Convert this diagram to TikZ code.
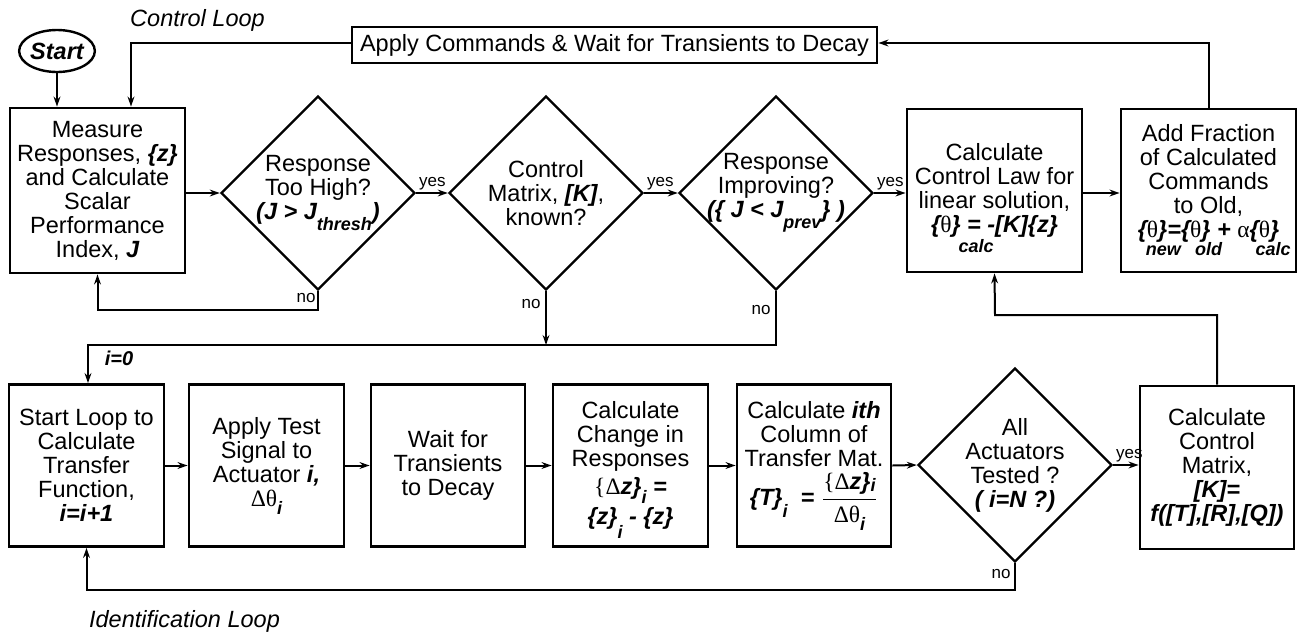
\documentclass[tikz,border=0pt]{standalone}
\usepackage{fontspec}
\setmainfont{Liberation Sans}
\newfontfamily\symf{Liberation Serif}
\usetikzlibrary{shapes.geometric,arrows.meta}
\newcommand\bi[1]{{\bfseries\itshape #1}}
\newcommand\gk[1]{{\symf\mdseries\upshape #1}}
\newcommand\sbf{\fontsize{9}{9}\selectfont\bfseries\itshape}
\newcommand\lsub[2][5pt]{\raisebox{-#1}{\sbf #2}}
\newcommand\slsub[2][5pt]{\smash{\raisebox{-#1}{\sbf #2}}}
\newcommand\zsub[3][0pt]{\rlap{\hspace{#1}\raisebox{-#2}{\sbf #3}}}
\newcommand\szsub[3][0pt]{\rlap{\hspace{#1}\smash{\raisebox{-#2}{\sbf #3}}}}
\begin{document}
\begin{tikzpicture}[x=0.5pt,y=-0.5pt,
  every node/.style={font=\fontsize{11.75}{12}\selectfont, align=center},
  blk/.style={draw, line width=1.4pt, inner sep=0pt},
  dia/.style={draw, diamond, aspect=1, line width=1.2pt, inner sep=-14pt, minimum width=97pt, minimum height=97pt},
  arr/.style={line width=1pt, -{Stealth[length=5pt,width=3.4pt,inset=1.6pt]}},
  lbl/.style={font=\fontsize{8.5}{9}\selectfont, inner sep=1pt},
  loopname/.style={font=\fontsize{11.75}{12}\selectfont\itshape, inner sep=0pt}
]
\useasboundingbox (0,0) rectangle (1300,633);

% ---- top row
\node[draw, ellipse, line width=1.2pt, minimum width=37.5pt, minimum height=21pt, inner sep=0pt] (start) at (57,51) {\bi{Start}};
\node[blk, minimum width=87.5pt, minimum height=82.5pt] (measure) at (97.5,190.5)
  {Measure\\Responses, \bi{\{z\}}\\and Calculate\\Scalar\\Performance\\Index, \bi{J}};
\node[blk, minimum width=262.5pt, minimum height=18pt] (apply) at (614.5,45)
  {Apply Commands \& Wait for Transients to Decay};
\node[dia] (d1) at (318,193) {Response\\Too High?\\\bi{(J > J}\lsub[5.5pt]{thresh}\bi{)}};
\node[dia] (d2) at (546,193) {Control\\Matrix, \bi{[K]},\\known?};
\node[dia] (d3) at (776,193) {Response\\Improving?\\\bi{(\{ J < J}\lsub[5.5pt]{prev}\bi{\} )}};
\node[blk, minimum width=87.5pt, minimum height=81.5pt] (ccl) at (994.5,190.5)
  {Calculate\\Control Law for\\linear solution,\\\bi{\{}\gk{θ}\bi{\}}\szsub[-1pt]{10pt}{calc}\bi{ = -[K]\{z\}}};
\node[blk, minimum width=87.5pt, minimum height=81.5pt] (af) at (1208.5,190.5)
  {Add Fraction\\of Calculated\\Commands\\to Old,\\\zsub[4pt]{9pt}{new}\bi{\{}\gk{θ}\bi{\}=}\zsub[7pt]{9pt}{old}\bi{\{}\gk{θ}\bi{\}} \bi{+} \gk{α}\zsub[3pt]{9pt}{calc}\bi{\{}\gk{θ}\bi{\}}};

% ---- bottom row
\node[blk, minimum width=77.5pt, minimum height=81pt] (sl) at (86.5,465.5)
  {Start Loop to\\Calculate\\Transfer\\Function,\\\bi{i=i+1}};
\node[blk, minimum width=77.5pt, minimum height=81pt] (at) at (266.5,465.5)
  {Apply Test\\Signal to\\Actuator \bi{i,}\\\gk{Δθ}\lsub[4pt]{i}};
\node[blk, minimum width=77pt, minimum height=81pt] (wt) at (448,465.5)
  {Wait for\\Transients\\to Decay};
\node[blk, minimum width=77.5pt, minimum height=81pt] (cc) at (630.5,465.5)
  {Calculate\\Change in\\Responses\\[2pt]\gk{\{Δ}\bi{z\}}\slsub[4.5pt]{i}\bi{ =}\\[3pt]\bi{\{z\}}\slsub[7pt]{i}\bi{ - \{z\}}};
\node[blk, minimum width=77pt, minimum height=81pt] (ci) at (814,465.5)
  {Calculate \bi{ith}\\Column of\\Transfer Mat.\\[2pt]\bi{\{T\}}\lsub[6pt]{i}\bi{ ~= }$\displaystyle\frac{\hbox{\gk{\{Δ}\bi{z\}}\lsub[1pt]{i}}}{\hbox{\gk{Δθ}\lsub[4pt]{i}}}$};
\node[dia] (d4) at (1015,465) {All\\Actuators\\Tested ?\\\bi{( i=N ?)}};
\node[blk, minimum width=77pt, minimum height=81.5pt] (cm) at (1217,467.5)
  {Calculate\\Control\\Matrix,\\\bi{[K]=}\\\bi{f([T],[R],[Q])}};

% ---- labels
\node[loopname] (cltext) at (197.5,20) {Control Loop};
\node[loopname] (idtext) at (184.5,621) {Identification Loop};
\node[font=\fontsize{10}{10}\selectfont\bfseries\itshape, inner sep=0pt] (izero) at (119,358) {i=0};

% ---- helper coordinates
\coordinate (cl) at (131,43);
\coordinate (n1) at (318,310);
\coordinate (jn) at (88,345);
\coordinate (n4) at (1015,590);
\coordinate (mid) at (995,315);

% ---- connectors
\draw[arr] (start.south) -- (start.south |- measure.north);
\draw[arr] (apply.west |- cl) -- (cl) -- (cl |- measure.north);
\draw[arr] (measure.east |- d1.west) -- (d1.west);
\draw[arr] (d1.east) -- (d2.west) node[lbl, pos=0, anchor=south west] (y1) {yes};
\draw[arr] (d2.east) -- (d3.west) node[lbl, pos=0, anchor=south west] (y2) {yes};
\draw[arr] (d3.east) -- (ccl.west |- d3.east) node[lbl, pos=0, anchor=south west] (y3) {yes};
\draw[arr] (ccl.east |- d3.east) -- (af.west |- d3.east);
\draw[arr] (af.north) |- (apply.east |- cl);
\draw[arr] (d1.south) -- (n1) -| (measure.south);
\node[lbl, anchor=north east] (no1) at (d1.south) {no};
\draw[arr] (d2.south) -- (d2.south |- jn);
\node[lbl, anchor=north east, xshift=-1.5pt, yshift=-3pt] (no2) at (d2.south) {no};
\draw[arr] (d3.south) |- (jn) -- (jn |- sl.north);
\node[lbl, anchor=north east, xshift=-1.5pt, yshift=-6pt] (no3) at (d3.south) {no};

\draw[arr] (sl.east) -- (at.west);
\draw[arr] (at.east) -- (wt.west);
\draw[arr] (wt.east) -- (cc.west);
\draw[arr] (cc.east) -- (ci.west);
\draw[arr] (ci.east) -- (d4.west);
\draw[arr] (d4.east) -- (cm.west |- d4.east) node[lbl, pos=0, anchor=south west] (y4) {yes};
\draw[arr] (d4.south) -- (n4) -| (sl.south);
\node[lbl, anchor=north east, xshift=-1pt, yshift=-2pt] (no4) at (d4.south) {no};
\draw[arr] (cm.north) |- (mid) -- (ccl.south);
\end{tikzpicture}
\end{document}
